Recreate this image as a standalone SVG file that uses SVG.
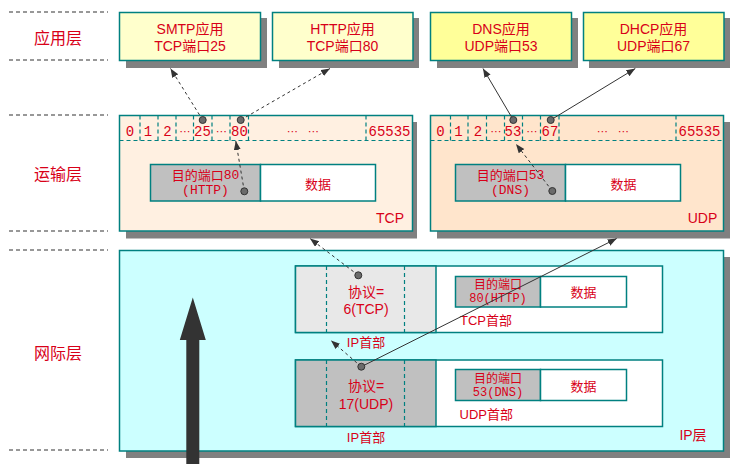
<svg xmlns="http://www.w3.org/2000/svg" width="744" height="471" viewBox="0 0 744 471">
<style>
text{fill:#D80018;font-family:"Liberation Sans","Noto Sans CJK SC",sans-serif;text-anchor:middle;dominant-baseline:central}
.mono{font-family:"Liberation Mono","Noto Sans CJK SC",monospace}
.ell{font-family:"DejaVu Sans",sans-serif;font-size:11px}
.shadow{fill:#808080}
.box{stroke:#008080;stroke-width:1.5}
.div{stroke:#008080;stroke-dasharray:4 3;stroke-width:1.2;fill:none}
.sep{stroke:#333;stroke-dasharray:4 3;stroke-width:1.2;fill:none}
.dash{stroke:#333;stroke-dasharray:3 3;stroke-width:1;fill:none;marker-end:url(#ah)}
.solid{stroke:#333;stroke-width:1;fill:none;marker-end:url(#ah)}
.dot{fill:#6b6b6b;stroke:#333;stroke-width:1}
.f16{font-size:16px}.f14{font-size:14px}.f13{font-size:13px}.f12{font-size:12px}
</style>
<defs>
<marker id="ah" markerUnits="userSpaceOnUse" markerWidth="10" markerHeight="8" refX="9" refY="3.5" orient="auto">
<path d="M0,0 L9,3.5 L0,7 z" fill="#333"/>
</marker>
</defs>

<g id="layer-separators">
<line class="sep" x1="9" y1="12" x2="108" y2="12"/>
<line class="sep" x1="9" y1="60" x2="108" y2="60"/>
<line class="sep" x1="9" y1="115" x2="108" y2="115"/>
<line class="sep" x1="9" y1="231" x2="108" y2="231"/>
<line class="sep" x1="9" y1="250" x2="108" y2="250"/>
<line class="sep" x1="9" y1="450" x2="108" y2="450"/>
<text class="f16" x="58" y="38">应用层</text>
<text class="f16" x="58" y="174">运输层</text>
<text class="f16" x="58" y="353">网际层</text>
</g>

<g id="smtp">
<rect class="shadow" x="126" y="18" width="141" height="50"/>
<rect class="box" x="119.5" y="12.5" width="141" height="48" fill="#FFFFCC"/>
<text class="f14" x="190" y="28.5">SMTP应用</text>
<text class="f14" x="190" y="46">TCP端口25</text>
</g>
<g id="http">
<rect class="shadow" x="279" y="18" width="140" height="50"/>
<rect class="box" x="272.5" y="12.5" width="140.5" height="48" fill="#FFFFCC"/>
<text class="f14" x="342.5" y="28.5">HTTP应用</text>
<text class="f14" x="342.5" y="46">TCP端口80</text>
</g>
<g id="dns">
<rect class="shadow" x="437" y="18" width="141" height="50"/>
<rect class="box" x="430.5" y="12.5" width="141" height="48" fill="#FFFF99"/>
<text class="f14" x="501" y="28.5">DNS应用</text>
<text class="f14" x="501" y="46">UDP端口53</text>
</g>
<g id="dhcp">
<rect class="shadow" x="589" y="18" width="141" height="50"/>
<rect class="box" x="583.5" y="12.5" width="140.5" height="48" fill="#FFFF99"/>
<text class="f14" x="653.5" y="28.5">DHCP应用</text>
<text class="f14" x="653.5" y="46">UDP端口67</text>
</g>

<g id="tcp">
<rect class="shadow" x="126" y="122" width="291" height="116.5"/>
<rect class="box" x="119.5" y="115.5" width="293" height="115.5" fill="#FFF0E1"/>
<line class="div" x1="119.5" y1="140.5" x2="412.5" y2="140.5"/>
<path class="div" d="M140,115.5V140.5M158,115.5V140.5M176,115.5V140.5M193.5,115.5V140.5M212,115.5V140.5M230,115.5V140.5M248.5,115.5V140.5M366,115.5V140.5"/>
<text class="mono f14" x="130" y="132">0</text>
<text class="mono f14" x="148" y="132">1</text>
<text class="mono f14" x="167.5" y="132">2</text>
<text class="ell" x="185" y="131">⋯</text>
<text class="mono f14" x="202.5" y="132">25</text>
<text class="ell" x="221.5" y="131">⋯</text>
<text class="mono f14" x="239.5" y="132">80</text>
<text class="ell" x="292.5" y="131">⋯</text>
<text class="ell" x="313.5" y="131">⋯</text>
<text class="mono f14" x="389.5" y="132">65535</text>
<rect x="150.5" y="164.5" width="110" height="36.5" fill="#C0C0C0" stroke="#008080" stroke-width="1.5"/>
<rect x="260.5" y="164.5" width="115" height="36.5" fill="#FFFFFF" stroke="#008080" stroke-width="1.5"/>
<text class="f13" x="205.5" y="175">目的端口<tspan class="mono">80</tspan></text>
<text class="mono f13" x="205.5" y="190">(HTTP)</text>
<text class="f13" x="318" y="184">数据</text>
<text class="f14" x="390" y="218">TCP</text>
</g>

<g id="udp">
<rect class="shadow" x="437" y="122" width="293" height="116.5"/>
<rect class="box" x="430.5" y="115.5" width="293" height="115.5" fill="#FFE5CC"/>
<line class="div" x1="430.5" y1="140.5" x2="723.5" y2="140.5"/>
<path class="div" d="M450.5,115.5V140.5M468,115.5V140.5M486.5,115.5V140.5M504.5,115.5V140.5M522.5,115.5V140.5M540.5,115.5V140.5M559,115.5V140.5M676,115.5V140.5"/>
<text class="mono f14" x="440.5" y="132">0</text>
<text class="mono f14" x="458.5" y="132">1</text>
<text class="mono f14" x="478" y="132">2</text>
<text class="ell" x="496" y="131">⋯</text>
<text class="mono f14" x="513" y="132">53</text>
<text class="ell" x="532" y="131">⋯</text>
<text class="mono f14" x="550" y="132">67</text>
<text class="ell" x="602.5" y="131">⋯</text>
<text class="ell" x="623.5" y="131">⋯</text>
<text class="mono f14" x="699.5" y="132">65535</text>
<rect x="455.5" y="164.5" width="110" height="36.5" fill="#C0C0C0" stroke="#008080" stroke-width="1.5"/>
<rect x="565.5" y="164.5" width="115" height="36.5" fill="#FFFFFF" stroke="#008080" stroke-width="1.5"/>
<text class="f13" x="510.5" y="175">目的端口<tspan class="mono">53</tspan></text>
<text class="mono f13" x="510.5" y="190">(DNS)</text>
<text class="f13" x="623.5" y="184">数据</text>
<text class="f14" x="702.5" y="218">UDP</text>
</g>

<g id="ip-layer">
<rect class="shadow" x="126" y="257" width="604" height="201"/>
<rect class="box" x="119.5" y="250.5" width="604" height="200.5" fill="#CCFFFF"/>
<text class="f14" x="693" y="435">IP层</text>
</g>

<g id="ip-tcp-packet">
<rect x="295.5" y="266" width="367" height="66.5" fill="#FFFFFF" stroke="#008080" stroke-width="1.5"/>
<rect x="295.5" y="266" width="140.5" height="66.5" fill="#E8E8E8" stroke="#008080" stroke-width="1.5"/>
<path class="div" d="M326.5,266V332.5M404.5,266V332.5"/>
<text class="f14" x="366" y="292">协议=</text>
<text class="f14" x="366" y="309">6(TCP)</text>
<text class="f13" x="366" y="342.5">IP首部</text>
<rect x="455.5" y="276.5" width="85" height="30.5" fill="#C0C0C0" stroke="#008080" stroke-width="1.5"/>
<rect x="540.5" y="276.5" width="86" height="30.5" fill="#FFFFFF" stroke="#008080" stroke-width="1.5"/>
<text class="f12" x="498" y="285">目的端口</text>
<text class="mono f12" x="498" y="298.5">80(HTTP)</text>
<text class="f13" x="583.5" y="292">数据</text>
<text class="f13" x="460" y="320.5" style="text-anchor:start">TCP首部</text>
</g>

<g id="ip-udp-packet">
<rect x="295.5" y="360" width="367" height="66.5" fill="#FFFFFF" stroke="#008080" stroke-width="1.5"/>
<rect x="295.5" y="360" width="140.5" height="66.5" fill="#C0C0C0" stroke="#008080" stroke-width="1.5"/>
<path class="div" d="M326.5,360V426.5M404.5,360V426.5"/>
<text class="f14" x="366" y="386">协议=</text>
<text class="f14" x="366" y="403.5">17(UDP)</text>
<text class="f13" x="366" y="437.5">IP首部</text>
<rect x="455.5" y="369.5" width="85" height="31" fill="#C0C0C0" stroke="#008080" stroke-width="1.5"/>
<rect x="540.5" y="369.5" width="86" height="31" fill="#FFFFFF" stroke="#008080" stroke-width="1.5"/>
<text class="f12" x="498" y="378.5">目的端口</text>
<text class="mono f12" x="498" y="393">53(DNS)</text>
<text class="f13" x="583.5" y="386">数据</text>
<text class="f13" x="459.5" y="414.5" style="text-anchor:start">UDP首部</text>
</g>

<g id="up-arrow">
<path d="M192.8,297.5 L205.8,340 L199.3,340 L199.3,464 L186.3,464 L186.3,340 L179.8,340 Z" fill="#333333"/>
</g>

<g id="connectors">
<line class="dash" x1="202.7" y1="120" x2="170.5" y2="68.5"/>
<line class="dash" x1="240.7" y1="120" x2="330" y2="68.5"/>
<line class="dash" x1="244.3" y1="191.3" x2="235.8" y2="141"/>
<line class="solid" x1="513.3" y1="120" x2="483" y2="68.5"/>
<line class="solid" x1="550.7" y1="120" x2="635.3" y2="68.5"/>
<line class="dash" x1="552.3" y1="191" x2="516" y2="144"/>
<line class="dash" x1="358.3" y1="275.3" x2="310" y2="238.5"/>
<line class="solid" x1="361.3" y1="366.7" x2="616.7" y2="238.5"/>
<line class="dash" x1="361.3" y1="366.7" x2="331" y2="340.5"/>
<circle class="dot" cx="202.7" cy="120" r="3.5"/>
<circle class="dot" cx="240.7" cy="120" r="3.5"/>
<circle class="dot" cx="244.3" cy="191.3" r="3.5"/>
<circle class="dot" cx="513.3" cy="120" r="3.5"/>
<circle class="dot" cx="550.7" cy="120" r="3.5"/>
<circle class="dot" cx="552.3" cy="191" r="3.5"/>
<circle class="dot" cx="358.3" cy="275.3" r="3.5"/>
<circle class="dot" cx="361.3" cy="366.7" r="3.5"/>
</g>
</svg>
